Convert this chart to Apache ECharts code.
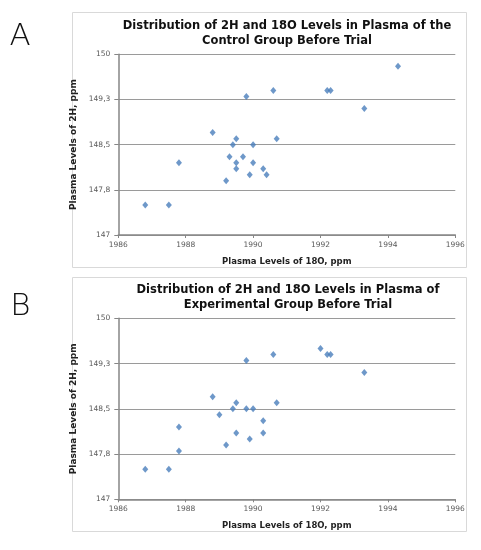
<!DOCTYPE html>
<html><head><meta charset="utf-8">
<script src="https://cdn.jsdelivr.net/npm/echarts@6/dist/echarts.min.js"></script>
<style>html,body{margin:0;padding:0;background:#fff}#c{width:481px;height:550px}</style>
</head><body><div id="c"></div>
<script>
const titleA = "Distribution of 2H and 18O Levels in Plasma of the\nControl Group Before Trial";
const titleB = "Distribution of 2H and 18O Levels in Plasma of\nExperimental Group Before Trial";
const xName = "Plasma Levels of 18O, ppm";
const yName = "Plasma Levels of 2H, ppm";
const controlO18 = [1986.8,1987.5,1987.8,1988.8,1989.4,1989.5,1989.3,1989.5,1989.5,1989.7,1989.2,1989.8,1990.0,1990.0,1989.9,1990.3,1990.4,1990.6,1990.7,1992.2,1992.3,1993.3,1994.3];
const controlH2 = [147.5,147.5,148.2,148.7,148.5,148.6,148.3,148.2,148.1,148.3,147.9,149.3,148.5,148.2,148.0,148.1,148.0,149.4,148.6,149.4,149.4,149.1,149.8];
const expO18 = [1986.8,1987.5,1987.8,1987.8,1988.8,1989.0,1989.4,1989.5,1989.8,1990.0,1989.5,1989.9,1989.2,1990.3,1990.3,1989.8,1990.6,1990.7,1992.0,1992.2,1992.3,1993.3];
const expH2 = [147.5,147.5,148.2,147.8,148.7,148.4,148.5,148.6,148.5,148.5,148.1,148.0,147.9,148.3,148.1,149.3,149.4,148.6,149.5,149.4,149.4,149.1];

const pairs = (xs, ys) => xs.map((x, i) => [x, ys[i]]);
const yFmt = v => Number.isInteger(v) ? String(v) : v.toFixed(1).replace('.', ',');
const xFmt = v => String(v);
const F = "DejaVu Sans";

function xAxis(gi) {
  return {
    type: 'value', gridIndex: gi, min: 1986, max: 1996, interval: 2,
    name: xName, nameLocation: 'middle', nameGap: 22,
    nameTextStyle: {fontFamily: F, fontWeight: 'bold', fontSize: 8.5, color: '#222'},
    axisLine: {lineStyle: {color: '#868686', width: 1.5}},
    axisTick: {show: true, length: 3, lineStyle: {color: '#868686'}},
    axisLabel: {fontFamily: F, fontSize: 7.5, color: '#595959', margin: 6, formatter: xFmt},
    splitLine: {show: false}
  };
}
function yAxis(gi) {
  return {
    type: 'value', gridIndex: gi, min: 147, max: 150, interval: 0.75,
    name: yName, nameLocation: 'middle', nameGap: 37,
    nameTextStyle: {fontFamily: F, fontWeight: 'bold', fontSize: 9, color: '#222'},
    axisLine: {show: true, lineStyle: {color: '#868686', width: 1.5}},
    axisTick: {show: true, length: 4, lineStyle: {color: '#868686'}},
    axisLabel: {fontFamily: F, fontSize: 7.5, color: '#595959', margin: 8, formatter: yFmt},
    splitLine: {show: true, lineStyle: {color: '#9a9a9a', width: 1}}
  };
}
const titleStyle = {fontFamily: F, fontWeight: 'bold', fontSize: 11.5, color: '#111', lineHeight: 15};

const chart = echarts.init(document.getElementById('c'), null, {renderer: 'canvas'});
chart.setOption({
  animation: false,
  backgroundColor: '#fff',
  title: [
    {text: titleA, left: 282, top: 14, textAlign: 'center', textStyle: titleStyle},
    {text: titleB, left: 283, top: 278, textAlign: 'center', textStyle: titleStyle}
  ],
  graphic: [
    {type: 'rect', shape: {x: 72.5, y: 12.5, width: 394, height: 255}, style: {fill: 'none', stroke: '#d9d9d9', lineWidth: 1}, z: -1},
    {type: 'rect', shape: {x: 72.5, y: 277.5, width: 394, height: 254}, style: {fill: 'none', stroke: '#d9d9d9', lineWidth: 1}, z: -1},
    {type: 'text', x: 20, y: 37, style: {text: 'A', fontFamily: F, fontWeight: 200, fontSize: 31, fill: '#111', align: 'center', verticalAlign: 'middle'}},
    {type: 'text', x: 20.5, y: 307, style: {text: 'B', fontFamily: F, fontWeight: 200, fontSize: 31, fill: '#111', align: 'center', verticalAlign: 'middle'}}
  ],
  grid: [
    {left: 118.3, right: 25.7, top: 54.3, height: 180.7},
    {left: 118.3, right: 25.7, top: 318.3, height: 181}
  ],
  xAxis: [xAxis(0), xAxis(1)],
  yAxis: [yAxis(0), yAxis(1)],
  series: [
    {type: 'scatter', xAxisIndex: 0, yAxisIndex: 0, data: pairs(controlO18, controlH2), symbol: 'diamond', symbolSize: [6, 7], itemStyle: {color: '#4a7ebb'}},
    {type: 'scatter', xAxisIndex: 1, yAxisIndex: 1, data: pairs(expO18, expH2), symbol: 'diamond', symbolSize: [6, 7], itemStyle: {color: '#4a7ebb'}}
  ]
});
</script></body></html>
